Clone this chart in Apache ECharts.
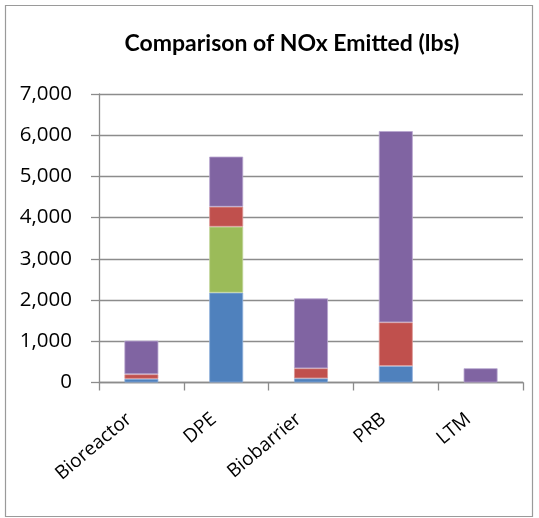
<!DOCTYPE html>
<html>
<head>
<meta charset="utf-8">
<title>Comparison of NOx Emitted (lbs)</title>
<script src="https://cdn.jsdelivr.net/npm/echarts@6/dist/echarts.min.js"></script>
<style>
  html, body { margin: 0; padding: 0; background: #fff; }
  #chart { width: 539px; height: 518px; }
</style>
</head>
<body>
<div id="chart"></div>
<script>
// Technologies compared
const categories = ['Bioreactor', 'DPE', 'Biobarrier', 'PRB', 'LTM'];

// NOx emitted (lbs) per stacked component, bottom to top
const seriesBlue   = [90, 2180, 100, 400, 0];
const seriesGreen  = [0, 1600, 0, 0, 0];
const seriesRed    = [110, 485, 245, 1060, 0];
const seriesPurple = [815, 1215, 1695, 4640, 345];

// Value axis ticks
const yTicks = [0, 1000, 2000, 3000, 4000, 5000, 6000, 7000];

const TITLE_FONT = 'Lato, "Open Sans", sans-serif';
const LABEL_FONT = '"Open Sans", Lato, sans-serif';
const GRID_COLOR = '#8c8c8c';

function stackSeries(name, data, color, border) {
  return {
    name: name,
    type: 'bar',
    stack: 'total',
    // empty segments get no outline so they leave no sliver on the bar
    data: data.map(v => v === 0 ? { value: 0, itemStyle: { borderWidth: 0 } } : v),
    barWidth: '40%',
    itemStyle: { color: color, borderColor: border, borderWidth: 0.8 },
    emphasis: { disabled: true }
  };
}

const chart = echarts.init(document.getElementById('chart'), null, { renderer: 'canvas' });
chart.setOption({
  animation: false,
  backgroundColor: '#ffffff',
  title: {
    text: 'Comparison of NOx Emitted (lbs)',
    left: 287,
    top: 27,
    textAlign: 'center',
    textStyle: { fontFamily: TITLE_FONT, fontWeight: 'bold', fontSize: 23, color: '#000' }
  },
  graphic: [{
    type: 'rect',
    shape: { x: 5.5, y: 5.5, width: 527, height: 511 },
    style: { fill: 'none', stroke: '#9a9a9a', lineWidth: 1.2 },
    silent: true,
    z: 100
  }],
  grid: { left: 99, right: 16, top: 94, bottom: 135.5, containLabel: false },
  xAxis: {
    type: 'category',
    data: categories,
    axisLine: { lineStyle: { color: GRID_COLOR, width: 1.3 } },
    axisTick: { show: true, length: 8, lineStyle: { color: GRID_COLOR, width: 1.3 } },
    axisLabel: {
      rotate: 40,
      margin: 24,
      padding: [0, 16, 0, 0],
      fontFamily: LABEL_FONT,
      fontSize: 19,
      color: '#000',
      interval: 0
    }
  },
  yAxis: {
    type: 'value',
    min: yTicks[0],
    max: yTicks[yTicks.length - 1],
    interval: yTicks[1] - yTicks[0],
    axisLine: { show: true, lineStyle: { color: GRID_COLOR, width: 1.3 } },
    axisTick: { show: true, length: 8, lineStyle: { color: GRID_COLOR, width: 1.3 } },
    splitLine: { lineStyle: { color: GRID_COLOR, width: 1.3 } },
    axisLabel: {
      margin: 27,
      fontFamily: LABEL_FONT,
      fontSize: 20.5,
      color: '#000',
      formatter: v => v.toLocaleString('en-US')
    }
  },
  series: [
    stackSeries('Component 1', seriesBlue, '#4f81bd', '#8fb0da'),
    stackSeries('Component 2', seriesGreen, '#9bbb59', '#c2d69b'),
    stackSeries('Component 3', seriesRed, '#c0504d', '#dc9896'),
    stackSeries('Component 4', seriesPurple, '#8064a2', '#b7a6cf')
  ]
});
</script>
</body>
</html>
